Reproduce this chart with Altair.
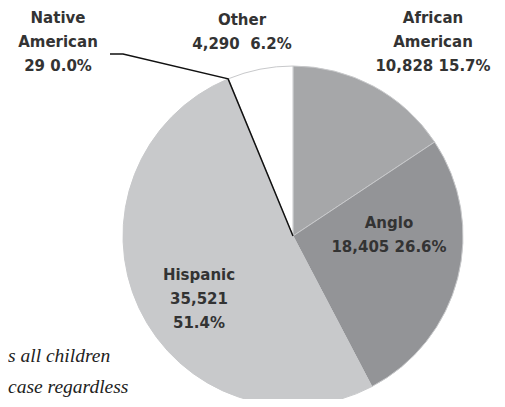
import math
import altair as alt
import pandas as pd

# ---- data ----
groups = ["African American", "Anglo", "Hispanic", "Native American", "Other"]
counts = [10828, 18405, 35521, 29, 4290]
pcts = ["15.7%", "26.6%", "51.4%", "0.0%", "6.2%"]
colors = ["#a6a7a9", "#939497", "#c8c9cb", "#c8c9cb", "#ffffff"]

label_lines = [
    ["African", "American", "10,828 15.7%"],
    ["Anglo", "18,405 26.6%"],
    ["Hispanic", "35,521", "51.4%"],
    ["Native", "American", "29 0.0%"],
    ["Other", "4,290\u00a0 6.2%"],
]

note_lines = ["s all children", "case regardless"]

# ---- layout (pie radius = 1 unit) ----
W, H = 489, 391
R = 170
CX, CY = 293 - 8, 236 - 8  # pie centre in view pixels
xdom = [(0 - CX) / R, (W - CX) / R]
ydom = [(CY - H) / R, CY / R]
xs = alt.Scale(domain=xdom, nice=False, zero=False)
ys = alt.Scale(domain=ydom, nice=False, zero=False)

def px(x_page, y_page):
    return ((x_page - 293) / R, (236 - y_page) / R)

# label anchor positions (first line centre)
label_pos = [px(433, 18), px(389, 223), px(199, 275), px(58, 18), px(242, 20)]
note_pos = [px(8, 362), px(8, 393)]

df = pd.DataFrame({"group": groups, "count": counts, "order": list(range(len(groups)))})

pie = alt.Chart(df).mark_arc(outerRadius=R, stroke="#c8c9cb", strokeWidth=1).encode(
    x=alt.X(datum=0, type="quantitative", scale=xs, axis=None),
    y=alt.Y(datum=0, type="quantitative", scale=ys, axis=None),
    theta=alt.Theta("count:Q", stack=True),
    order=alt.Order("order:Q"),
    color=alt.Color("group:N", scale=alt.Scale(domain=groups, range=colors), legend=None),
)

# leader line for Native American, computed from its slice angle
total = sum(counts)
i_na = groups.index("Native American")
start = sum(counts[:i_na]) / total
ang = 2 * math.pi * (start + counts[i_na] / total / 2)
edge = (math.sin(ang), math.cos(ang))
elbow = px(123, 54)
end = px(110, 54)
lead = pd.DataFrame({
    "i": [0, 1, 2, 3],
    "u": [0.0, edge[0], elbow[0], end[0]],
    "v": [0.0, edge[1], elbow[1], end[1]],
})
leader = alt.Chart(lead).mark_line(color="#111111", strokeWidth=1.5).encode(
    x=alt.X("u:Q", scale=xs, axis=None),
    y=alt.Y("v:Q", scale=ys, axis=None),
    order="i:Q",
)

lab = pd.DataFrame({
    "text": ["\n".join(l) for l in label_lines],
    "u": [p[0] for p in label_pos],
    "v": [p[1] for p in label_pos],
})
labels = alt.Chart(lab).mark_text(
    font="DejaVu Sans", fontWeight="bold", fontSize=15, color="#333333",
    lineBreak="\n", lineHeight=24, align="center", baseline="middle",
).encode(
    x=alt.X("u:Q", scale=xs, axis=None),
    y=alt.Y("v:Q", scale=ys, axis=None),
    text="text:N",
)

notes = pd.DataFrame({
    "text": note_lines,
    "u": [p[0] for p in note_pos],
    "v": [p[1] for p in note_pos],
})
note = alt.Chart(notes).mark_text(
    font="Liberation Serif", fontStyle="italic", fontSize=19.5, color="#222222",
    align="left", baseline="alphabetic",
).encode(
    x=alt.X("u:Q", scale=xs, axis=None),
    y=alt.Y("v:Q", scale=ys, axis=None),
    text="text:N",
)

chart = alt.layer(pie, leader, labels, note).properties(
    width=W, height=H,
    autosize=alt.AutoSizeParams(type="none"),
    padding=0,
).configure_view(stroke=None)

chart.save("out.html", embed_options={"renderer": "svg", "actions": False})
